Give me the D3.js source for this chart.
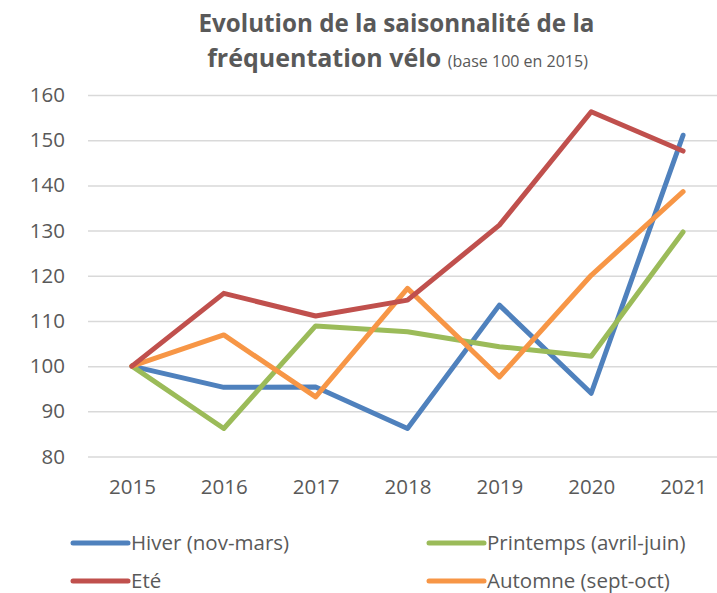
<!DOCTYPE html>
<html>
<head>
<meta charset="utf-8">
<script src="https://cdn.jsdelivr.net/npm/d3@7"></script>
<style>
  body { margin: 0; background: #fff; }
  svg { display: block; font-family: "Open Sans", Lato, sans-serif; }
  .tick-label { fill: #595959; font-size: 20.5px; }
</style>
</head>
<body>
<div id="chart"></div>
<script>
// data
const years = ["2015", "2016", "2017", "2018", "2019", "2020", "2021"];
const hiver = [100, 95.3, 95.4, 86.2, 113.5, 94.0, 151.1];
const ete = [100, 116.1, 111.1, 114.6, 131.2, 156.3, 147.6];
const printemps = [100, 86.2, 108.9, 107.6, 104.3, 102.2, 129.7];
const automne = [100, 106.9, 93.2, 117.2, 97.6, 120.1, 138.6];
const yTicks = [80, 90, 100, 110, 120, 130, 140, 150, 160];

const series = [
    {name: "Hiver (nov-mars)", values: hiver, color: "#4F81BD"},
    {name: "Eté", values: ete, color: "#C0504D"},
    {name: "Printemps (avril-juin)", values: printemps, color: "#9BBB59"},
    {name: "Automne (sept-oct)", values: automne, color: "#F79646"}
];

const width = 717, height = 593;
const plotLeft = 86, plotRight = 729, plotTop = 95, plotBottom = 456.5;
const textColor = "#595959";

const svg = d3.select("#chart").append("svg")
    .attr("width", width)
    .attr("height", height);

// title
const title = svg.append("g").attr("fill", textColor).attr("text-anchor", "middle");
title.append("text")
    .attr("x", 396.5).attr("y", 32)
    .attr("font-size", 24.2).attr("font-weight", "bold")
    .text("Evolution de la saisonnalité de la");
const t2 = title.append("text")
    .attr("x", 397.5).attr("y", 67);
t2.append("tspan").attr("font-size", 25).attr("font-weight", "bold").text("fréquentation vélo ");
t2.append("tspan").attr("font-size", 16).text("(base 100 en 2015)");

const x = d3.scalePoint()
    .domain(years)
    .range([plotLeft, plotRight])
    .padding(0.5);

const y = d3.scaleLinear()
    .domain([80, 160])
    .range([plotBottom, plotTop]);

// gridlines + y labels
const yAxis = svg.append("g")
    .attr("transform", `translate(${plotLeft + 2} 0)`)
    .call(d3.axisLeft(y).tickValues(yTicks).tickSize(-(width - plotLeft)).tickPadding(23));
yAxis.select(".domain").remove();
yAxis.attr("font-family", null).attr("font-size", null);
yAxis.selectAll(".tick line").attr("stroke", "#D9D9D9").attr("stroke-width", 1.5);
yAxis.selectAll(".tick text").attr("class", "tick-label");

// x labels
const xAxis = svg.append("g")
    .attr("transform", `translate(0 ${plotBottom})`)
    .call(d3.axisBottom(x).tickSize(0).tickPadding(23));
xAxis.select(".domain").remove();
xAxis.attr("font-family", null).attr("font-size", null);
xAxis.selectAll(".tick text").attr("class", "tick-label");

// lines, drawn in the reference's stacking order
const line = d3.line()
    .x((d, i) => x(years[i]))
    .y(d => y(d));

svg.append("g").selectAll("path")
    .data([series[0], series[2], series[3], series[1]])
    .join("path")
    .attr("d", d => line(d.values))
    .attr("fill", "none")
    .attr("stroke", d => d.color)
    .attr("stroke-width", 5)
    .attr("stroke-linejoin", "round")
    .attr("stroke-linecap", "round");

// legend
const legendPos = [[73, 543], [73, 581], [429, 543], [429, 581]];
const legend = svg.append("g").selectAll("g")
    .data(series)
    .join("g")
    .attr("transform", (d, i) => `translate(${legendPos[i][0]} ${legendPos[i][1]})`);
legend.append("line")
    .attr("x1", 0).attr("x2", 55)
    .attr("stroke", d => d.color)
    .attr("stroke-width", 5)
    .attr("stroke-linecap", "round");
legend.append("text")
    .attr("class", "tick-label")
    .attr("x", 58)
    .attr("dy", "0.35em")
    .attr("font-size", 21)
    .text(d => d.name);
</script>
</body>
</html>
